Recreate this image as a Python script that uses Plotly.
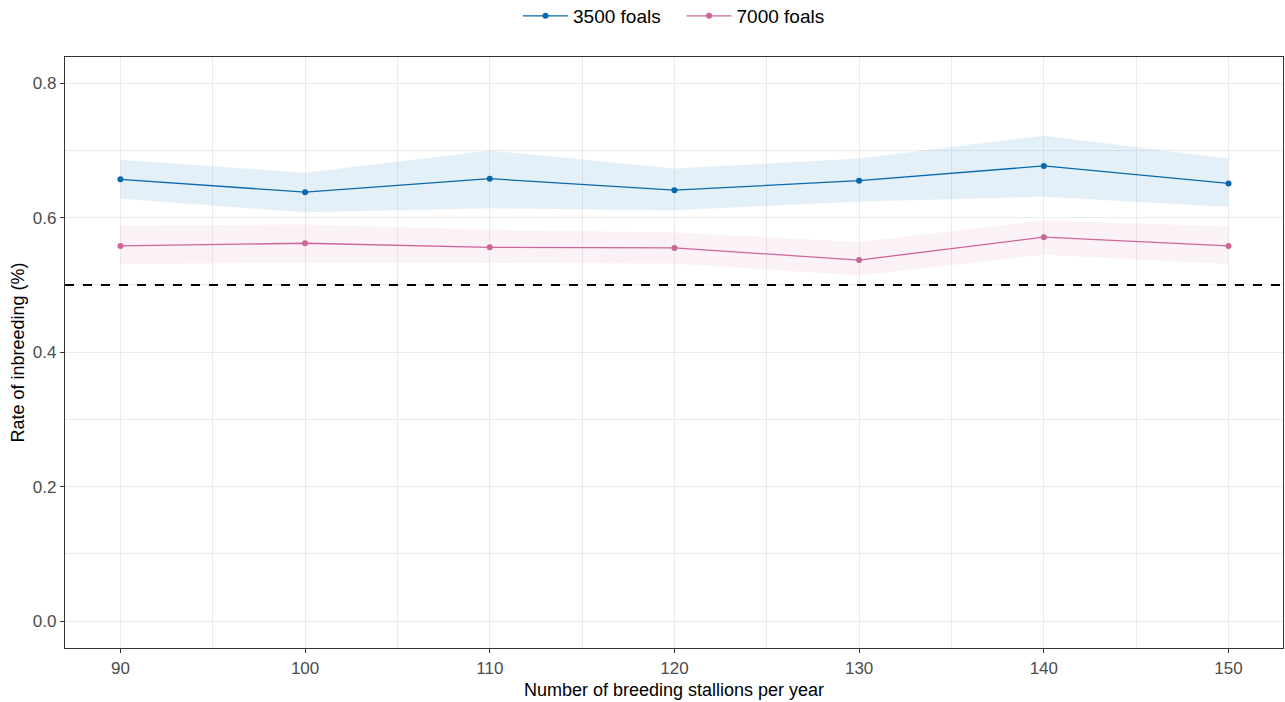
import plotly.graph_objects as go

stallions = [90, 100, 110, 120, 130, 140, 150]

rate_3500 = [0.657, 0.638, 0.658, 0.641, 0.655, 0.677, 0.651]
upper_3500 = [0.686, 0.667, 0.700, 0.673, 0.688, 0.722, 0.688]
lower_3500 = [0.628, 0.608, 0.614, 0.611, 0.624, 0.631, 0.616]

rate_7000 = [0.558, 0.562, 0.556, 0.555, 0.537, 0.571, 0.558]
upper_7000 = [0.588, 0.590, 0.582, 0.578, 0.564, 0.596, 0.587]
lower_7000 = [0.531, 0.533, 0.532, 0.532, 0.514, 0.545, 0.531]

threshold = 0.5

x_ticks = [90, 100, 110, 120, 130, 140, 150]
y_ticks = [0.0, 0.2, 0.4, 0.6, 0.8]
y_tick_text = ["0.0", "0.2", "0.4", "0.6", "0.8"]

blue = "#0868ac"
pink = "#cc6699"

fig = go.Figure()

# ribbons
fig.add_trace(go.Scatter(
    x=stallions + stallions[::-1], y=upper_3500 + lower_3500[::-1],
    mode="lines", fill="toself", fillcolor="rgba(107,174,214,0.18)", line=dict(width=0),
    hoverinfo="skip", showlegend=False))
fig.add_trace(go.Scatter(
    x=stallions + stallions[::-1], y=upper_7000 + lower_7000[::-1],
    mode="lines", fill="toself", fillcolor="rgba(221,140,185,0.11)", line=dict(width=0),
    hoverinfo="skip", showlegend=False))

fig.add_trace(go.Scatter(
    x=stallions, y=rate_3500, mode="lines+markers", name="3500 foals   ",
    line=dict(color=blue, width=1.3), marker=dict(color=blue, size=6)))
fig.add_trace(go.Scatter(
    x=stallions, y=rate_7000, mode="lines+markers", name="7000 foals",
    line=dict(color=pink, width=1.3), marker=dict(color=pink, size=6)))

fig.add_hline(y=threshold, line=dict(color="black", width=2, dash="dash"))

fig.update_layout(
    width=1285, height=702,
    paper_bgcolor="white", plot_bgcolor="white",
    margin=dict(l=65, r=2, t=57, b=54, autoexpand=False),
    font=dict(family="Liberation Sans, Arial, sans-serif", color="black"),
    legend=dict(orientation="h", x=0.5, xanchor="center", yref="container",
                y=1 - 16 / 702, yanchor="middle",
                font=dict(size=19), itemwidth=45, tracegroupgap=0),
)

fig.update_xaxes(
    range=[87.0, 152.95], tickvals=x_ticks, ticktext=[str(v) for v in x_ticks],
    showgrid=True, gridcolor="#ebebeb", gridwidth=1.2,
    minor=dict(dtick=5, tick0=85, showgrid=True, gridcolor="#ebebeb", gridwidth=0.6),
    showline=True, linecolor="#333333", linewidth=1.2, mirror=True,
    ticks="outside", ticklen=4, tickcolor="#333333",
    tickfont=dict(size=17, color="#4d4d4d"),
    title=dict(text="Number of breeding stallions per year", font=dict(size=18), standoff=6),
    zeroline=False)

fig.update_yaxes(
    range=[-0.040, 0.839], tickvals=y_ticks, ticktext=y_tick_text,
    showgrid=True, gridcolor="#ebebeb", gridwidth=1.2,
    minor=dict(dtick=0.1, tick0=0.1, showgrid=True, gridcolor="#ebebeb", gridwidth=0.6),
    showline=True, linecolor="#333333", linewidth=1.2, mirror=True,
    ticks="outside", ticklen=4, tickcolor="#333333",
    tickfont=dict(size=17, color="#4d4d4d"),
    title=dict(text="Rate of inbreeding (%)", font=dict(size=18), standoff=3),
    zeroline=False)

fig.write_html("out.html")
